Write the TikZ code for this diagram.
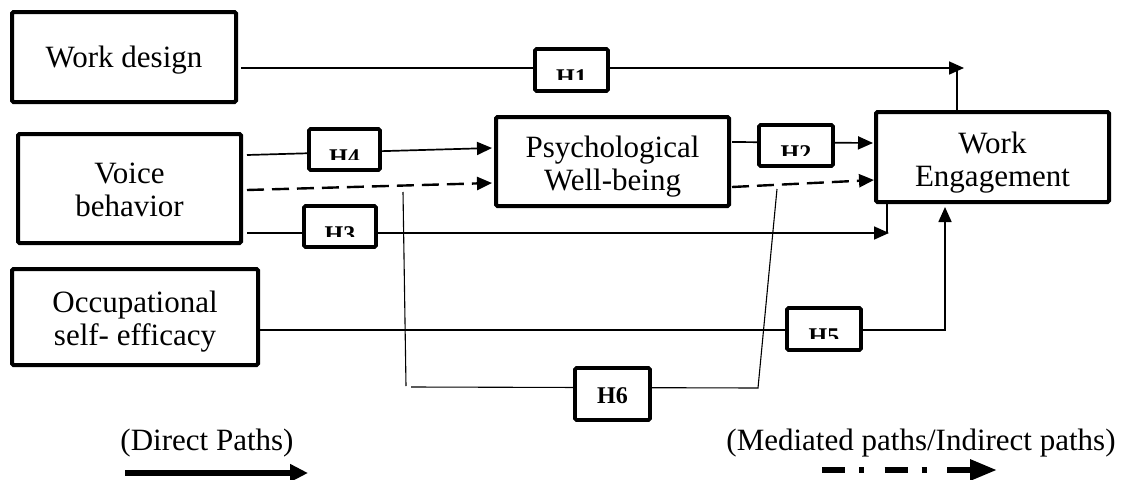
\documentclass[tikz,border=0pt]{standalone}
\usepackage{fontspec}
\setmainfont{Liberation Serif}
\usetikzlibrary{arrows.meta}
\pgfdeclarelayer{edges}
\pgfsetlayers{edges,main}
\tikzset{
  box/.style={draw, line width=4pt, fill=white, rounded corners=1.5pt, inner sep=0pt, outer sep=0pt},
  boxtext/.style={inner sep=0pt, align=center, font=\fontsize{31}{33}\selectfont},
  hbox/.style={draw, line width=3.6pt, fill=white, rounded corners=1.5pt, inner sep=0pt, outer sep=0pt},
  hlab/.style={font=\fontsize{24}{24}\selectfont\bfseries, inner sep=0pt},
  conn/.style={line width=1.7pt, -{Triangle[length=15pt,width=13pt]}},
  pline/.style={line width=1.7pt},
  med/.style={line width=2.4pt, dash pattern=on 17pt off 8pt, -{Triangle[length=15pt,width=13pt]}},
  hsix/.style={line width=1.1pt},
  legtext/.style={font=\fontsize{31}{33}\selectfont, inner sep=0pt},
}
\begin{document}
\begin{tikzpicture}[x=1pt,y=-1pt]
\useasboundingbox (0,0) rectangle (1131,479);
% main boxes
\node[box, minimum width=224pt, minimum height=90pt] (wd) at (124,57) {};
\node[box, minimum width=223pt, minimum height=109pt] (vb) at (129.5,188.5) {};
\node[box, minimum width=246pt, minimum height=96pt] (ose) at (135,317) {};
\node[box, minimum width=233pt, minimum height=89pt] (pwb) at (612.5,161.5) {};
\node[box, minimum width=233pt, minimum height=90pt] (we) at (992.5,157) {};
\node[boxtext] (wd-t) at ([yshift=-3pt]wd.center) {Work design};
\node[boxtext] (vb-t) at ([yshift=-1pt]vb.center) {Voice\\behavior};
\node[boxtext] (ose-t) at ([yshift=-5pt]ose.center) {Occupational\\self- efficacy};
\node[boxtext] (pwb-t) at ([yshift=-5pt]pwb.center) {Psychological\\Well-being};
\node[boxtext] (we-t) at ([yshift=-6pt]we.center) {Work\\Engagement};
% hypothesis boxes
\node[hbox, minimum width=73pt, minimum height=42pt] (h1) at (571.5,70) {};
\node[hbox, minimum width=71pt, minimum height=41pt] (h4) at (344.5,149.5) {};
\node[hbox, minimum width=72pt, minimum height=41pt] (h3) at (340,226.5) {};
\node[hbox, minimum width=74pt, minimum height=41pt] (h2) at (796,145.5) {};
\node[hbox, minimum width=74pt, minimum height=42pt] (h5) at (824,329) {};
\node[hbox, minimum width=75pt, minimum height=52pt] (h6) at (612.5,394) {};
\node[hlab] (h6-t) at ([yshift=-2pt]h6.center) {H6};
\foreach \n/\t in {h1/H1,h2/H2,h3/H3,h4/H4,h5/H5} {
  \begin{scope}
    \clip (\n.north west) rectangle ([yshift=-30pt]\n.north east);
    \node[hlab, anchor=base] (\n-t) at ([yshift=-36pt]\n.north) {\t};
  \end{scope}
}
% connectors
\begin{pgfonlayer}{edges}
\fill[white] (0,0) rectangle (1131,479);
% H1
\coordinate (h1s) at ([xshift=5pt,yshift=-11pt]wd.east);
\coordinate (weT) at ([xshift=-35.5pt]we.north);
\path (weT |- h1s) ++(7,0) coordinate (h1tip);
\draw[conn] (h1s) -- (h1tip);
\draw[pline] (weT) -- (weT |- h1s);
% H4
\draw[conn] ([xshift=6pt,yshift=33.5pt]vb.east) -- ([xshift=-4pt,yshift=13.5pt]pwb.west);
% mediated VB -> PWB
\draw[med] ([xshift=6pt,yshift=-1.5pt]vb.east) -- ([xshift=-4pt,yshift=-21.5pt]pwb.west);
% H3
\coordinate (h3s) at ([xshift=6pt,yshift=-44.5pt]vb.east);
\coordinate (weB) at ([xshift=-105.5pt]we.south);
\path (weB |- h3s) ++(2,0) coordinate (h3tip);
\draw[conn] (h3s) -- (h3tip);
\draw[pline] (weB) -- (weB |- h3s);
% H2
\draw[conn] ([xshift=3pt,yshift=19.5pt]pwb.east) -- ([xshift=-3pt,yshift=14pt]we.west);
% mediated PWB -> WE
\draw[med] ([xshift=3pt,yshift=-25.5pt]pwb.east) -- ([xshift=-2pt,yshift=-23pt]we.west);
% H5
\draw[conn] ([xshift=2pt,yshift=-13pt]ose.east) -| ([xshift=-47.5pt,yshift=-5pt]we.south);
% H6
\coordinate (m1) at (403,192);
\coordinate (m2) at (406,386);
\coordinate (m3) at (411,387);
\coordinate (m4) at (758,388);
\coordinate (m5) at (777,189);
\draw[hsix] (m1) -- (m2);
\draw[hsix] (m3) -- (m4) -- (m5);
\end{pgfonlayer}
% legend
\node[legtext] (ld) at (207,443) {(Direct Paths)};
\node[legtext] (lm) at (921,443) {(Mediated paths/Indirect paths)};
\coordinate (da1) at (125,473);
\coordinate (da2) at (308,473);
\coordinate (ma1) at (822,470);
\coordinate (ma2) at (997,470);
\draw[line width=6.5pt, -{Triangle[length=18pt,width=17pt]}] (da1) -- (da2);
\draw[line width=6pt, dash pattern=on 23pt off 14pt on 5pt off 20.5pt, -{Triangle[length=27pt,width=20pt]}] (ma1) -- (ma2);
\end{tikzpicture}
\end{document}
